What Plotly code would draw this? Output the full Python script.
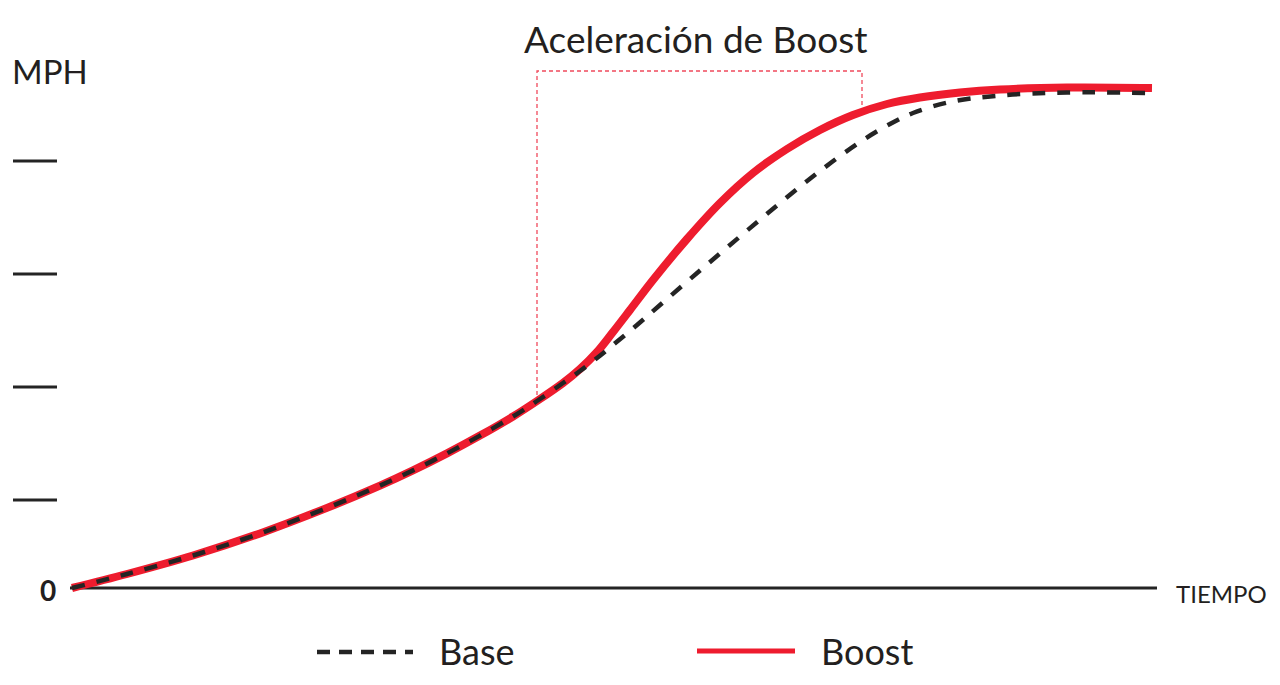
import numpy as np
import plotly.graph_objects as go

# ---------------- data (arbitrary time / speed units) ----------------
TIME_BASE = [0, 55, 121, 188, 255, 308, 341, 375, 408, 441, 465, 491,
             508, 525, 541, 565, 588, 628, 668, 708, 748, 788, 818, 841, 878, 928, 995, 1080]
MPH_BASE = [0, 14, 32.5, 54.6, 80.1, 102.4, 117.6, 134.6, 152.4, 171.5, 187, 205,
            217, 230, 243, 263, 283, 317.5, 351.5, 385, 417, 446, 464, 475, 486, 492.5, 495.5, 495]

TIME_BOOST = [0, 55, 121, 188, 255, 308, 341, 375, 408, 441, 465, 491,
              508, 525, 541, 558, 581, 615, 648, 681, 715, 748, 781, 815, 848, 888, 928, 995, 1080]
MPH_BOOST = [0, 14, 32.5, 54.6, 80.1, 102.4, 117.6, 134.6, 152.4, 171.5, 187, 205,
             219, 236, 256, 278, 308, 349, 385, 415, 439, 458, 473, 484, 490.5, 495.5, 498.5, 500.5, 500]

Y_TICKS = [88, 201, 314, 427]
BOOST_START = 465
BOOST_END = 790
BOX_TOP = 517

SERIES_NAMES = ["Base", "Boost"]
TITLE_TEXT = "Aceleración de Boost"
Y_LABEL = "MPH"
X_LABEL = "TIEMPO"
ZERO_LABEL = "0"

# ---------------- styling / layout ----------------
W, H = 1280, 685
ML, MR, MT, MB = 60, 115, 60, 80
PW, PH = W - ML - MR, H - MT - MB
X0_PX, Y0_PX = 72, 588          # pixel position of the data origin
RED = "#EE1C2E"
DARK = "#242424"
TEXT = "#231F20"
FONT = "Lato"

def px_x(px):
    return (px - ML) / PW

def px_y(py):
    return (H - MB - py) / PH

fig = go.Figure()
fig.add_trace(go.Scatter(x=TIME_BOOST, y=MPH_BOOST, mode="lines", name=SERIES_NAMES[1],
                         line=dict(color=RED, width=8, shape="spline", smoothing=1.0),
                         showlegend=False, hoverinfo="skip"))
fig.add_trace(go.Scatter(x=TIME_BASE, y=MPH_BASE, mode="lines", name=SERIES_NAMES[0],
                         line=dict(color=DARK, width=4.5, dash="13px,12px", shape="spline", smoothing=1.0),
                         showlegend=False, hoverinfo="skip"))

shapes = []
# x axis baseline
shapes.append(dict(type="line", xref="paper", yref="y", x0=px_x(70), x1=px_x(1157), y0=0, y1=0,
                   line=dict(color=DARK, width=3), layer="below"))
# y tick marks
for v in Y_TICKS:
    shapes.append(dict(type="line", xref="paper", yref="y", x0=px_x(13), x1=px_x(57), y0=v, y1=v,
                       line=dict(color=DARK, width=3)))
# boost bracket
left_bottom = float(np.interp(BOOST_START, TIME_BOOST, MPH_BOOST)) + 6
right_bottom = float(np.interp(BOOST_END, TIME_BOOST, MPH_BOOST)) + 6
shapes.append(dict(type="path", xref="x", yref="y",
                   path=f"M {BOOST_START},{left_bottom} L {BOOST_START},{BOX_TOP} L {BOOST_END},{BOX_TOP} L {BOOST_END},{right_bottom}",
                   line=dict(color="#F04A5C", width=1.3, dash="4px,3px"), layer="below"))
# legend samples
shapes.append(dict(type="line", xref="paper", yref="paper", x0=px_x(317), x1=px_x(413), y0=px_y(652), y1=px_y(652),
                   line=dict(color=DARK, width=4.5, dash="13px,9px")))
shapes.append(dict(type="line", xref="paper", yref="paper", x0=px_x(697), x1=px_x(795), y0=px_y(651), y1=px_y(651),
                   line=dict(color=RED, width=5)))

annotations = [
    dict(text=TITLE_TEXT, x=px_x(696), y=px_y(38), xref="paper", yref="paper", xanchor="center", yanchor="middle",
         showarrow=False, font=dict(family=FONT, size=37, color=TEXT)),
    dict(text=Y_LABEL, x=px_x(10), y=px_y(71), xref="paper", yref="paper", xanchor="left", yanchor="middle",
         showarrow=False, font=dict(family=FONT, size=33, color=TEXT)),
    dict(text=ZERO_LABEL, x=px_x(48), y=px_y(590), xref="paper", yref="paper", xanchor="center", yanchor="middle",
         showarrow=False, font=dict(family=FONT, size=28, color=TEXT, weight="bold")),
    dict(text=X_LABEL, x=px_x(1174), y=px_y(593), xref="paper", yref="paper", xanchor="left", yanchor="middle",
         showarrow=False, font=dict(family=FONT, size=24, color=TEXT)),
    dict(text=SERIES_NAMES[0], x=px_x(437), y=px_y(651), xref="paper", yref="paper", xanchor="left", yanchor="middle",
         showarrow=False, font=dict(family=FONT, size=36, color=TEXT)),
    dict(text=SERIES_NAMES[1], x=px_x(819), y=px_y(651), xref="paper", yref="paper", xanchor="left", yanchor="middle",
         showarrow=False, font=dict(family=FONT, size=36, color=TEXT)),
]

x_range = [ML - X0_PX, W - MR - X0_PX]
y_range = [-(H - MB - Y0_PX), Y0_PX - MT]

fig.update_layout(
    width=W, height=H,
    margin=dict(l=ML, r=MR, t=MT, b=MB, pad=0),
    paper_bgcolor="white", plot_bgcolor="white",
    xaxis=dict(range=x_range, visible=False, fixedrange=True),
    yaxis=dict(range=y_range, visible=False, fixedrange=True),
    shapes=shapes, annotations=annotations, showlegend=False,
)

fig.write_html("out.html", config={"displayModeBar": False})
